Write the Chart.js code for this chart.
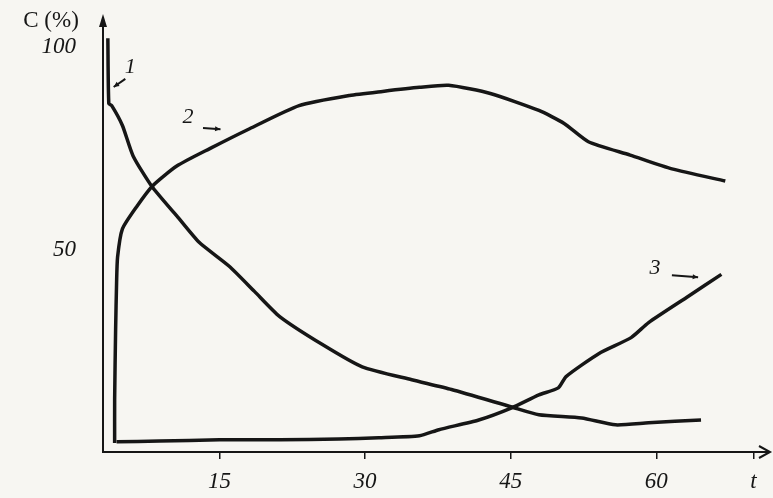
<!DOCTYPE html>
<html>
<head>
<meta charset="utf-8">
<script src="https://cdn.jsdelivr.net/npm/chart.js@4/dist/chart.umd.min.js"></script>
<style>
  html, body { margin: 0; padding: 0; background: #f5f4f0; }
  #wrap { width: 773px; height: 498px; }
</style>
</head>
<body>
<div id="wrap"><canvas id="chart" width="773" height="498"></canvas></div>
<script>
// values: t (x) and C % (y)
var curve1T = [3.5, 3.6, 3.9, 5.0, 6.1, 8.0, 10.6, 12.9, 16.0, 18.6, 21.2, 25.6, 29.7, 34.8, 38.9, 45.1, 47.9, 52.3, 55.8, 59.2, 64.6];
var curve1C = [101.5, 85.4, 84.9, 80.0, 72.5, 65.1, 57.7, 51.2, 45.3, 39.1, 32.9, 26.0, 20.5, 17.3, 14.9, 10.6, 8.7, 7.9, 6.2, 6.7, 7.4];

var curve2T = [4.2, 4.2, 4.3, 4.4, 4.5, 5.0, 6.5, 8.1, 10.6, 14.0, 18.1, 23.2, 28.4, 31.8, 35.6, 38.6, 42.9, 47.9, 50.5, 53.0, 57.3, 61.6, 67.1];
var curve2C = [1.7, 12.4, 29.7, 41.3, 47.5, 54.5, 60.1, 65.1, 70.0, 74.3, 79.2, 84.9, 87.4, 88.4, 89.4, 89.9, 87.9, 83.7, 80.5, 76.0, 72.7, 69.3, 66.3];

var curve3T = [4.4, 8.8, 15.0, 21.2, 27.3, 31.4, 35.6, 37.6, 41.7, 45.1, 47.9, 49.9, 50.7, 54.1, 57.4, 59.2, 63.3, 66.7];
var curve3C = [2.0, 2.2, 2.5, 2.5, 2.7, 3.0, 3.5, 5.0, 7.4, 10.4, 13.6, 15.3, 18.1, 23.8, 27.7, 31.4, 37.9, 43.3];

var xTicks = [15, 30, 45, 60, 70];
var xTickLabels = ['15', '30', '45', '60', 't'];
var yTicks = [50, 100];
var yTickLabels = ['50', '100'];

// curve numbers with their little pointer arrows, in data units
var curveLabels = ['1', '2', '3'];
var labelAt = [[5.8, 94.4], [11.75, 82.1], [59.85, 44.9]];
var arrowFrom = [[5.3, 91.5], [13.3, 79.4], [61.6, 43.1]];
var arrowTo = [[4.1, 89.5], [15.1, 79.1], [64.3, 42.6]];

function pairs(xs, ys) {
    return xs.map(function(x, i) { return { x: x, y: ys[i] }; });
}

var ink = '#161616';
var serif = "'Liberation Serif', 'DejaVu Serif', serif";

var decorations = {
    id: 'decorations',
    beforeDraw: function(chart) {
        var ctx = chart.ctx;
        ctx.save();
        ctx.fillStyle = '#f7f6f2';
        ctx.fillRect(0, 0, chart.width, chart.height);
        ctx.restore();
    },
    afterDraw: function(chart) {
        var ctx = chart.ctx;
        var a = chart.chartArea;
        var xs = chart.scales.x, ys = chart.scales.y;
        ctx.save();
        ctx.strokeStyle = ink;
        ctx.fillStyle = ink;
        ctx.lineWidth = 2;
        // arrow on y axis
        ctx.beginPath();
        ctx.moveTo(a.left, a.top - 4);
        ctx.lineTo(a.left - 4, a.top + 9);
        ctx.lineTo(a.left + 4, a.top + 9);
        ctx.closePath();
        ctx.fill();
        // arrow on x axis
        ctx.beginPath();
        ctx.moveTo(a.right - 9, a.bottom - 6);
        ctx.lineTo(a.right + 2, a.bottom);
        ctx.lineTo(a.right - 9, a.bottom + 6);
        ctx.stroke();

        // axis title
        ctx.font = '23px ' + serif;
        ctx.textAlign = 'center';
        ctx.textBaseline = 'middle';
        ctx.fillText('C (%)', 51, 21);

        // curve numbers and arrows
        ctx.font = 'italic 22px ' + serif;
        curveLabels.forEach(function(t, i) {
            ctx.fillText(t, xs.getPixelForValue(labelAt[i][0]), ys.getPixelForValue(labelAt[i][1]));
            var x0 = xs.getPixelForValue(arrowFrom[i][0]), y0 = ys.getPixelForValue(arrowFrom[i][1]);
            var x1 = xs.getPixelForValue(arrowTo[i][0]), y1 = ys.getPixelForValue(arrowTo[i][1]);
            ctx.lineWidth = 2;
            ctx.beginPath();
            ctx.moveTo(x0, y0);
            ctx.lineTo(x1, y1);
            ctx.stroke();
            var ang = Math.atan2(y1 - y0, x1 - x0);
            ctx.beginPath();
            ctx.moveTo(x1, y1);
            ctx.lineTo(x1 - 6 * Math.cos(ang - 0.45), y1 - 6 * Math.sin(ang - 0.45));
            ctx.lineTo(x1 - 6 * Math.cos(ang + 0.45), y1 - 6 * Math.sin(ang + 0.45));
            ctx.closePath();
            ctx.fill();
        });
        ctx.restore();
    }
};

function lineSet(xs, ys) {
    return {
        data: pairs(xs, ys),
        borderColor: ink,
        borderWidth: 3.5,
        pointRadius: 0,
        tension: 0.2,
        fill: false
    };
}

new Chart(document.getElementById('chart'), {
    type: 'line',
    data: {
        datasets: [lineSet(curve1T, curve1C), lineSet(curve2T, curve2C), lineSet(curve3T, curve3C)]
    },
    options: {
        responsive: false,
        animation: false,
        layout: { padding: { top: 18, right: 5, left: 0, bottom: 0 } },
        plugins: { legend: { display: false }, tooltip: { enabled: false } },
        scales: {
            x: {
                type: 'linear',
                min: 3,
                max: 71.5,
                afterBuildTicks: function(s) { s.ticks = xTicks.map(function(v) { return { value: v }; }); },
                afterFit: function(s) { s.height = 46; s.paddingLeft = 0; s.paddingRight = 0; },
                ticks: {
                    autoSkip: false,
                    maxRotation: 0,
                    padding: 9,
                    color: ink,
                    font: { family: serif, size: 23, style: 'italic' },
                    callback: function(v) { return xTickLabels[xTicks.indexOf(v)]; }
                },
                grid: { drawOnChartArea: false, drawTicks: true, tickLength: 7, color: ink, lineWidth: 1.5 },
                border: { display: true, color: ink, width: 2 }
            },
            y: {
                type: 'linear',
                min: -0.5,
                max: 106.5,
                afterBuildTicks: function(s) { s.ticks = yTicks.map(function(v) { return { value: v }; }); },
                afterFit: function(s) { s.width = 103; s.paddingTop = 0; s.paddingBottom = 0; },
                ticks: {
                    padding: 27,
                    labelOffset: 3,
                    color: ink,
                    font: { family: serif, size: 23, style: 'italic' },
                    callback: function(v) { return yTickLabels[yTicks.indexOf(v)]; }
                },
                grid: { drawOnChartArea: false, drawTicks: false },
                border: { display: true, color: ink, width: 2 }
            }
        }
    },
    plugins: [decorations]
});
</script>
</body>
</html>
